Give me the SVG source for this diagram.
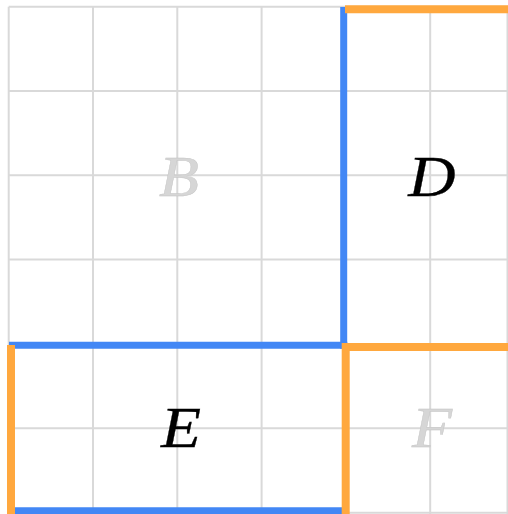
<svg xmlns="http://www.w3.org/2000/svg" width="508" height="514" viewBox="0 0 508 514">
<style>
.grid line{stroke:#d9d9d9;stroke-width:2}
.blue{stroke:#4287f5;stroke-width:7;fill:none}
.orange{stroke:#ffa83e;stroke-width:8;fill:none}
.lbl{font-family:"Liberation Serif","Times New Roman",serif;font-style:italic;font-size:57px;text-anchor:middle}
.dark{fill:#000;stroke:#000;stroke-width:0.3}
.light{fill:#d6d6d6;stroke:#c4c4c4;stroke-width:0.4}
</style>
<rect width="508" height="514" fill="#fff"/>
<g class="grid">
<line x1="8.7" y1="6.7" x2="8.7" y2="514"/>
<line x1="93" y1="6.7" x2="93" y2="514"/>
<line x1="177.3" y1="6.7" x2="177.3" y2="514"/>
<line x1="261.6" y1="6.7" x2="261.6" y2="514"/>
<line x1="345.9" y1="6.7" x2="345.9" y2="514"/>
<line x1="430.2" y1="6.7" x2="430.2" y2="514"/>
<line x1="507.5" y1="6.7" x2="507.5" y2="514"/>
<line x1="8.7" y1="6.7" x2="508" y2="6.7"/>
<line x1="8.7" y1="91" x2="508" y2="91"/>
<line x1="8.7" y1="175.3" x2="508" y2="175.3"/>
<line x1="8.7" y1="259.6" x2="508" y2="259.6"/>
<line x1="8.7" y1="343.9" x2="508" y2="343.9"/>
<line x1="8.7" y1="428.2" x2="508" y2="428.2"/>
<line x1="8.7" y1="512.8" x2="508" y2="512.8"/>
</g>
<g id="connectors">
<path class="blue" d="M343.7,7 V348.7"/>
<path class="blue" d="M9,345.3 H347.3"/>
<path class="blue" d="M11,510.8 H342"/>
<path class="orange" d="M345,9.3 H508"/>
<path class="orange" d="M345.7,347 H508"/>
<path class="orange" d="M345.7,343 V514"/>
<path class="orange" d="M11,345 V514"/>
</g>
<g id="B" transform="translate(179,0) scale(1.15,1)"><text class="lbl light" x="0" y="196">B</text></g>
<g id="D" transform="translate(432,0) scale(1.15,1)"><text class="lbl dark" x="0" y="196">D</text></g>
<g id="E" transform="translate(181,0) scale(1.15,1)"><text class="lbl dark" x="0" y="447">E</text></g>
<g id="F" transform="translate(432,0) scale(1.15,1)"><text class="lbl light" x="0" y="447">F</text></g>
</svg>
